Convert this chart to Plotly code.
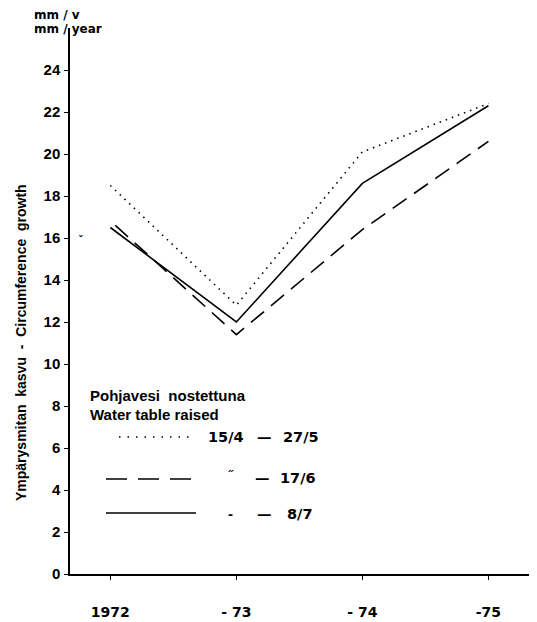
import plotly.graph_objects as go

years = [1972, 1973, 1974, 1975]
tick_labels = ["1972", "- 73", "- 74", "-75"]
dotted_vals = [18.5, 12.8, 20.1, 22.4]   # 15/4 - 27/5
dashed_vals = [16.6, 11.4, 16.4, 20.6]   # - 17/6
solid_vals = [16.5, 12.0, 18.6, 22.3]    # - 8/7
y_ticks = [0, 2, 4, 6, 8, 10, 12, 14, 16, 18, 20, 22, 24]

OFF = 8  # browser default body margin
W, H = 537 - OFF, 622 - OFF
L, R, T, B = 70 - OFF, 7, 28 - OFF, 48
PW, PH = W - L - R, H - T - B

def px(x):
    return (x - OFF - L) / PW

def py(y):
    return (H - B - (y - OFF)) / PH

FONT = "Liberation Sans, Arial, sans-serif"
WIDE = "DejaVu Sans, Liberation Sans, sans-serif"

fig = go.Figure()
fig.add_trace(go.Scatter(x=years, y=dotted_vals, mode="lines",
                         line=dict(color="black", width=1.6, dash="1.5px,5px")))
fig.add_trace(go.Scatter(x=[1972.04] + years[1:], y=dashed_vals, mode="lines",
                         line=dict(color="black", width=1.6, dash="17px,9px")))
fig.add_trace(go.Scatter(x=years, y=solid_vals, mode="lines",
                         line=dict(color="black", width=1.6)))

fig.update_layout(
    width=W, height=H, showlegend=False,
    margin=dict(l=L, r=R, t=T, b=B),
    paper_bgcolor="white", plot_bgcolor="white",
    font=dict(family=FONT, color="black", size=15),
    xaxis=dict(range=[1971.68, 1975.33], tickvals=years, automargin=False,
               ticktext=["<b>%s</b>" % t for t in tick_labels],
               showgrid=False, zeroline=False, showline=True, linecolor="black",
               linewidth=1.5, ticks="outside", ticklen=4, tickcolor="black",
               ticklabelstandoff=20,
               tickfont=dict(family=WIDE, size=14)),
    yaxis=dict(range=[0, 26], tickvals=y_ticks, automargin=False,
               ticktext=["<b>%d</b>" % v for v in y_ticks],
               showgrid=False, zeroline=False,
               showline=True, linecolor="black", linewidth=1.5, ticks="outside",
               ticklen=4, tickcolor="black", ticklabelstandoff=1,
               tickfont=dict(family=FONT, size=15)),
)

def txt(x, y, s, size=14, anchor="left", angle=0, family=FONT):
    fig.add_annotation(x=px(x), y=py(y), xref="paper", yref="paper",
                       text="<b>%s</b>" % s,
                       showarrow=False, xanchor=anchor, yanchor="middle",
                       textangle=angle, borderpad=0,
                       font=dict(family=family, size=size, color="black"))

txt(33, 15, "mm / v", 12, family=WIDE)
txt(33, 29, "mm / year", 12, family=WIDE)
txt(21, 343, "Ympärysmitan  kasvu  -  Circumference  growth", 14, "center", -90)
txt(78, 240, "\u02c7", 10)

txt(89, 395, "Pohjavesi  nostettuna", 15)
txt(89, 415, "Water table raised", 15)
txt(207, 437, "15/4", 14.5, family=WIDE)
txt(256, 437, "—", 14.5, family=WIDE)
txt(282, 437, "27/5", 14.5, family=WIDE)
txt(227, 476, "\u02dd", 12)
txt(254, 478, "—", 14.5, family=WIDE)
txt(279, 478, "17/6", 14.5, family=WIDE)
txt(227, 514, "-", 15)
txt(256, 514, "—", 14.5, family=WIDE)
txt(286, 514, "8/7", 14.5, family=WIDE)

def seg(x0, x1, y, dash):
    fig.add_shape(type="line", xref="paper", yref="paper",
                  x0=px(x0), x1=px(x1), y0=py(y), y1=py(y),
                  line=dict(color="black", width=1.6, dash=dash))

seg(119, 190, 437, "1.5px,7px")
seg(106, 196, 479, "21px,11px")
seg(106, 196, 513, "solid")

fig.write_html("out.html")
